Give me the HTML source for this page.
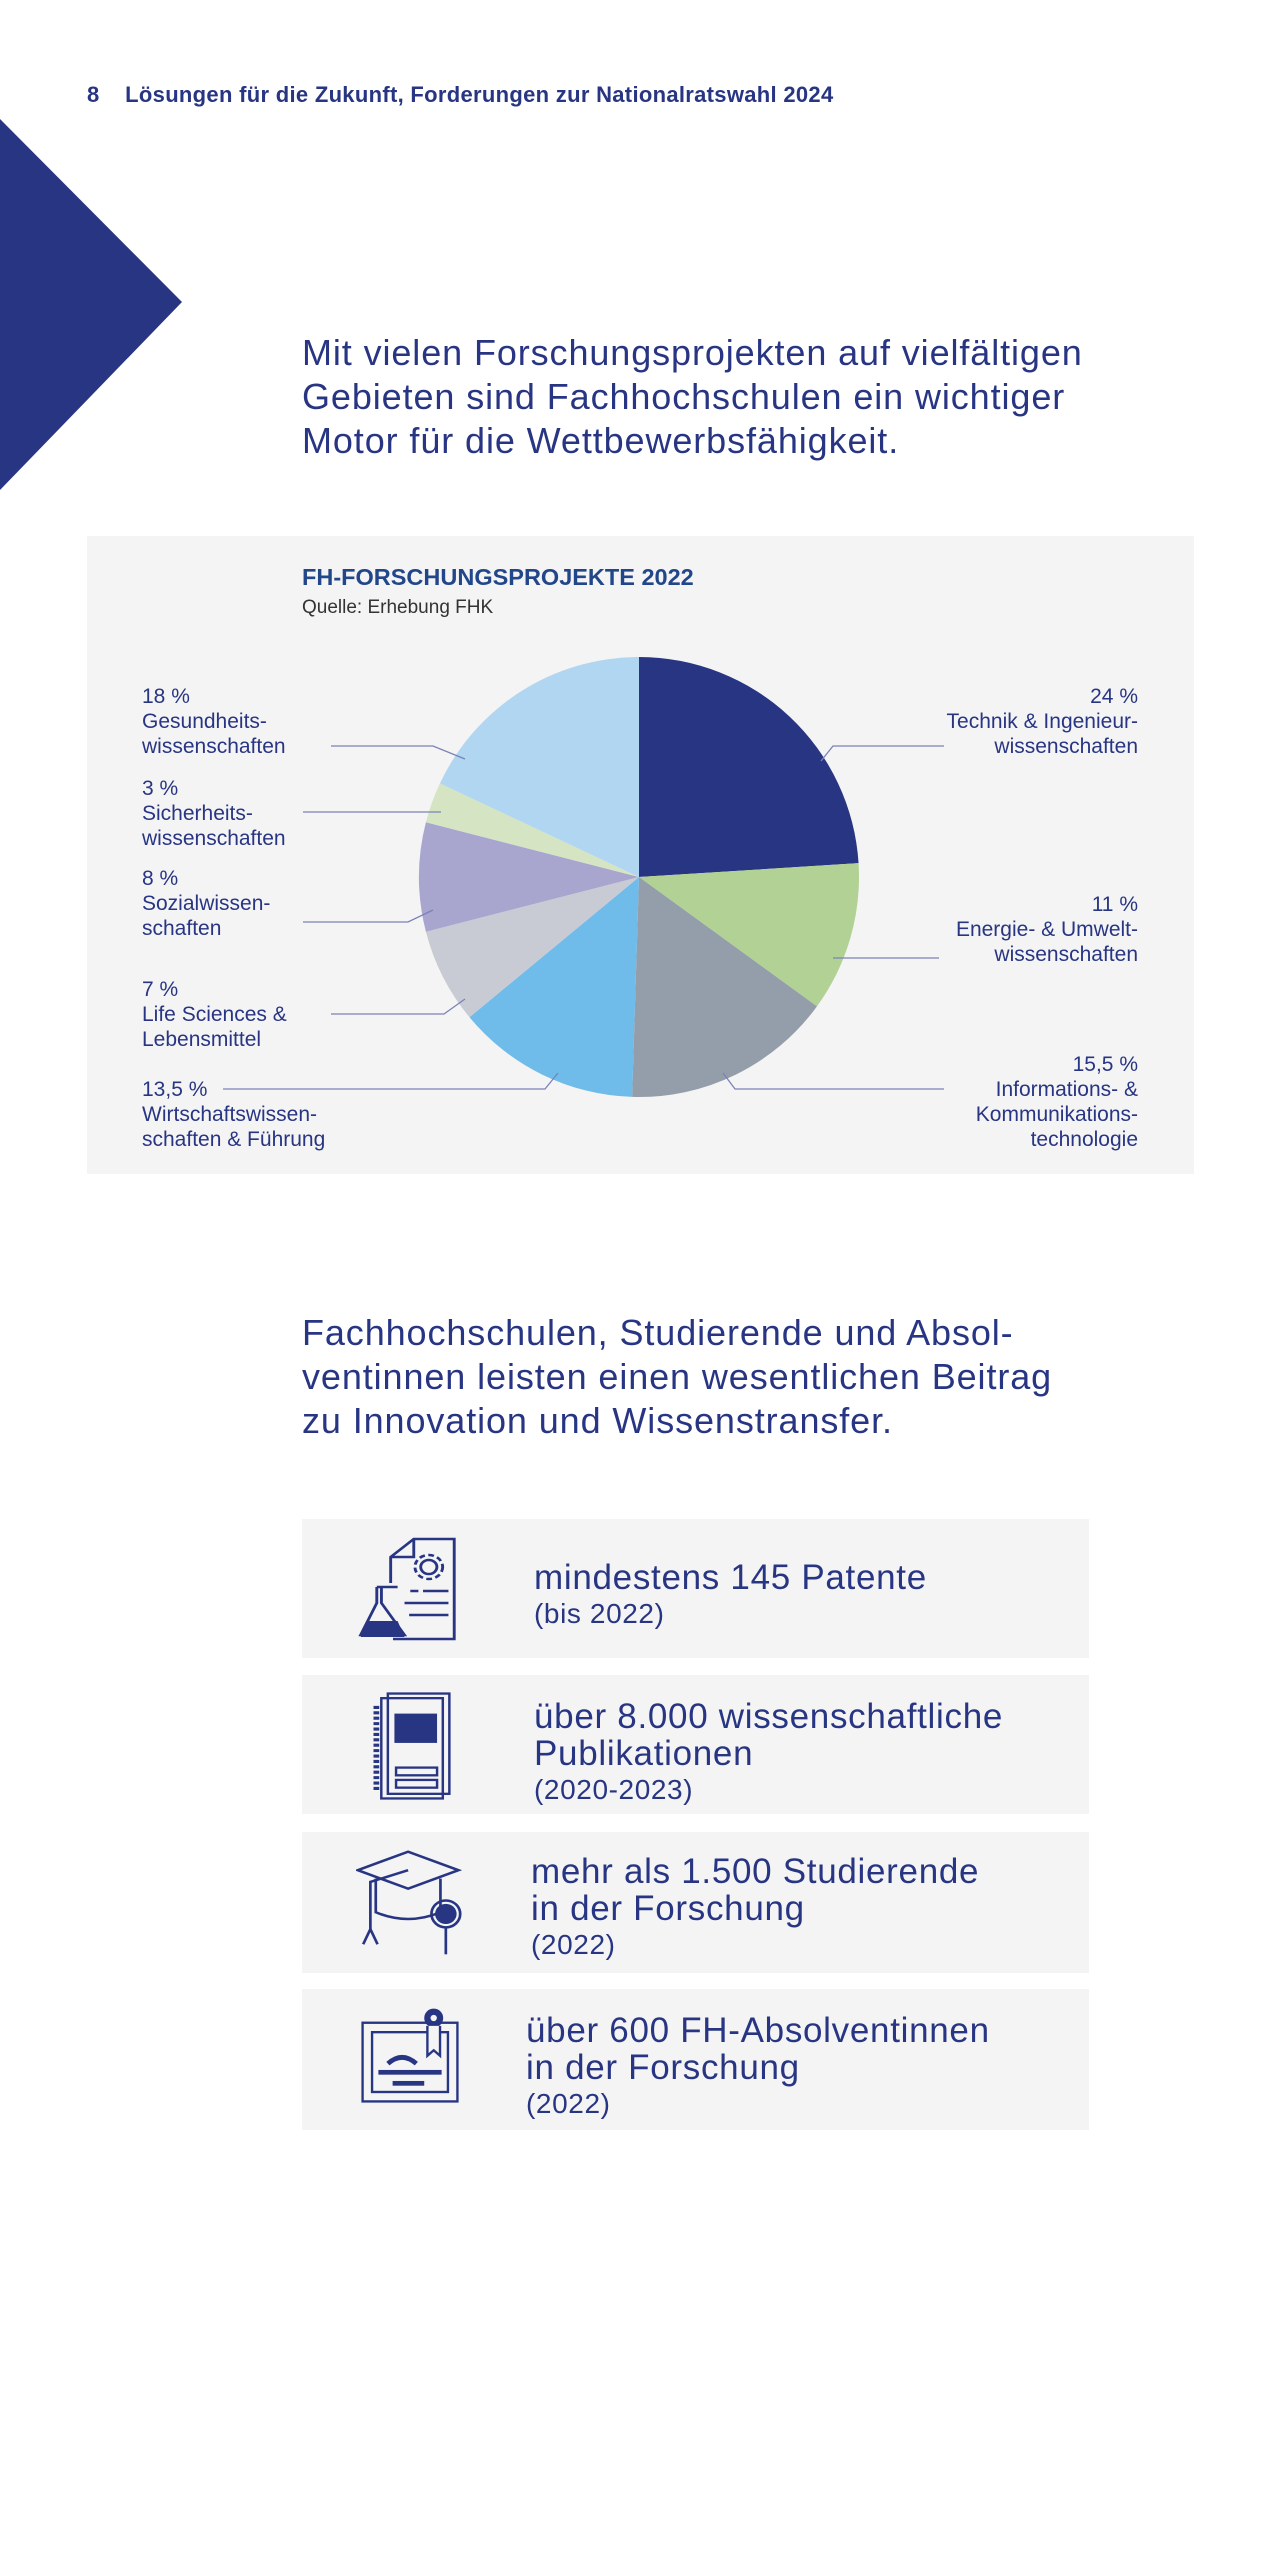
<!DOCTYPE html>
<html><head><meta charset="utf-8">
<style>
html,body{margin:0;padding:0;background:#fff;}
body{width:1280px;height:2560px;position:relative;overflow:hidden;font-family:"Liberation Sans",sans-serif;color:#283583;}
.abs{position:absolute;}
.hdr{left:87px;top:82px;font-size:22px;font-weight:bold;color:#283583;letter-spacing:0.3px;white-space:nowrap;}
.h2{left:302px;font-size:36px;line-height:44px;color:#283583;white-space:nowrap;letter-spacing:0.9px;}
.box{left:87px;top:536px;width:1107px;height:638px;background:#f4f4f4;}
.lbl{font-size:21px;line-height:25px;color:#283583;white-space:nowrap;}
.card{left:302px;width:787px;background:#f4f4f4;}
.ct{position:absolute;font-size:35px;line-height:37px;white-space:nowrap;color:#283583;letter-spacing:0.7px;}
.cs{font-size:28px;line-height:36px;display:block;letter-spacing:0.6px;}
.ic{position:absolute;}
</style></head><body>
<div class="abs hdr">8&nbsp;&nbsp;&nbsp;&nbsp;Lösungen für die Zukunft, Forderungen zur Nationalratswahl 2024</div>
<svg class="abs" style="left:0;top:0" width="200" height="500"><polygon points="0,119 182,302 0,490" fill="#283583"/></svg>
<div class="abs h2" style="top:331px">Mit vielen Forschungsprojekten auf vielfältigen<br>Gebieten sind Fachhochschulen ein wichtiger<br>Motor für die Wettbewerbsfähigkeit.</div>

<div class="abs box"></div>
<div class="abs" style="left:302px;top:564px;font-size:23.5px;font-weight:bold;color:#22468a;white-space:nowrap">FH-FORSCHUNGSPROJEKTE 2022</div>
<div class="abs" style="left:302px;top:597px;font-size:19px;color:#333;white-space:nowrap">Quelle: Erhebung FHK</div>
<svg id="pie" class="abs" style="left:0;top:0" width="1280" height="1200"></svg>

<div class="abs lbl" style="left:142px;top:684px">18 %<br>Gesundheits-<br>wissenschaften</div>
<div class="abs lbl" style="left:142px;top:776px">3 %<br>Sicherheits-<br>wissenschaften</div>
<div class="abs lbl" style="left:142px;top:866px">8 %<br>Sozialwissen-<br>schaften</div>
<div class="abs lbl" style="left:142px;top:977px">7 %<br>Life Sciences &amp;<br>Lebensmittel</div>
<div class="abs lbl" style="left:142px;top:1077px">13,5 %<br>Wirtschaftswissen-<br>schaften &amp; Führung</div>
<div class="abs lbl" style="right:142px;top:684px;text-align:right">24 %<br>Technik &amp; Ingenieur-<br>wissenschaften</div>
<div class="abs lbl" style="right:142px;top:892px;text-align:right">11 %<br>Energie- &amp; Umwelt-<br>wissenschaften</div>
<div class="abs lbl" style="right:142px;top:1052px;text-align:right">15,5 %<br>Informations- &amp;<br>Kommunikations-<br>technologie</div>

<div class="abs h2" style="top:1311px">Fachhochschulen, Studierende und Absol-<br>ventinnen leisten einen wesentlichen Beitrag<br>zu Innovation und Wissenstransfer.</div>

<div class="abs card" style="top:1519px;height:139px">
 <svg class="ic" style="left:54px;top:16px" width="104" height="106" viewBox="30 6 90 106" preserveAspectRatio="none">
  <g fill="none" stroke="#283583" stroke-width="2.5">
   <path d="M60,54 V28 L80,10 H115 V110 H62"/><path d="M60,28 H80 V10"/>
   <circle cx="93" cy="38" r="7"/><circle cx="93" cy="38" r="12" stroke-dasharray="5 3"/>
   <path d="M77,62 H84 M88,62 H110 M72,74 H110 M76,86 H110"/>
   <path d="M48,58 H66 M52,58 V74 L72,106 H34 L48,74 V58"/>
  </g>
  <path d="M40,92 H66 L72,108 H34 Z" fill="#283583"/>
 </svg>
 <div class="ct" style="left:232px;top:40px">mindestens 145 Patente<span class="cs">(bis 2022)</span></div>
</div>
<div class="abs card" style="top:1675px;height:139px">
 <svg class="ic" style="left:67px;top:17px" width="82" height="108" viewBox="15 2 100 140" preserveAspectRatio="none">
  <g fill="none" stroke="#283583" stroke-width="3">
   <rect x="30" y="10" width="75" height="130"/><rect x="38" y="4" width="75" height="130"/>
   <path d="M24,20 V132" stroke-dasharray="4 3" stroke-width="7"/>
   <rect x="48" y="100" width="50" height="10"/><rect x="48" y="116" width="50" height="10"/>
  </g>
  <rect x="46" y="30" width="52" height="38" fill="#283583"/>
 </svg>
 <div class="ct" style="left:232px;top:23px">über 8.000 wissenschaftliche<br>Publikationen<span class="cs">(2020-2023)</span></div>
</div>
<div class="abs card" style="top:1832px;height:141px">
 <svg class="ic" style="left:54px;top:18px" width="106" height="106" viewBox="4 6 118 126" preserveAspectRatio="none">
  <g fill="none" stroke="#283583" stroke-width="3">
   <path d="M6,30 L62,8 L118,30 L62,52 Z"/><path d="M26,40 V80 Q62,96 98,80 V40"/>
   <path d="M62,30 L20,44 V100"/><path d="M20,100 L12,118 M20,100 L28,118"/>
   <circle cx="104" cy="82" r="16"/><path d="M104,98 V130"/>
  </g>
  <circle cx="104" cy="82" r="12" fill="#283583"/>
 </svg>
 <div class="ct" style="left:229px;top:21px">mehr als 1.500 Studierende<br>in der Forschung<span class="cs">(2022)</span></div>
</div>
<div class="abs card" style="top:1989px;height:141px">
 <svg class="ic" style="left:59px;top:18px" width="98" height="96" viewBox="8 0 124 122" preserveAspectRatio="none">
  <g fill="none" stroke="#283583" stroke-width="3">
   <rect x="10" y="20" width="120" height="100"/><rect x="22" y="32" width="96" height="76"/>
   <path d="M42,72 Q60,56 78,72" stroke-width="6"/>
  </g>
  <rect x="30" y="80" width="80" height="6" fill="#283583"/><rect x="48" y="94" width="40" height="6" fill="#283583"/>
  <circle cx="100" cy="14" r="12" fill="#283583"/><circle cx="100" cy="14" r="4" fill="#f4f4f4"/>
  <path d="M92,24 V62 L100,55 L108,62 V24" fill="#f4f4f4" stroke="#283583" stroke-width="3"/>
 </svg>
 <div class="ct" style="left:224px;top:23px">über 600 FH-Absolventinnen<br>in der Forschung<span class="cs">(2022)</span></div>
</div>

<script>
const categories = ["Technik & Ingenieurwissenschaften","Energie- & Umweltwissenschaften","Informations- & Kommunikationstechnologie","Wirtschaftswissenschaften & Führung","Life Sciences & Lebensmittel","Sozialwissenschaften","Sicherheitswissenschaften","Gesundheitswissenschaften"];
const values = [24, 11, 15.5, 13.5, 7, 8, 3, 18];
const colors = ["#283583","#b2d295","#939eaa","#6fbbe9","#c8cbd3","#a8a6cf","#d5e4c3","#b0d6f1"];
const svg = document.getElementById('pie');
const NS = 'http://www.w3.org/2000/svg';
const cx = 639, cy = 877, r = 220;
const total = values.reduce((a,b)=>a+b,0);
function angleOf(v){ return v/total*2*Math.PI - Math.PI/2; }
function pt(a, rr){ return [cx + rr*Math.cos(a), cy + rr*Math.sin(a)]; }
let acc = 0;
values.forEach((v,i)=>{
  const a0 = angleOf(acc), a1 = angleOf(acc+v);
  acc += v;
  const p0 = pt(a0,r), p1 = pt(a1,r);
  const large = (a1-a0) > Math.PI ? 1 : 0;
  const path = document.createElementNS(NS,'path');
  path.setAttribute('d', `M${cx},${cy} L${p0[0]},${p0[1]} A${r},${r} 0 ${large} 1 ${p1[0]},${p1[1]} Z`);
  path.setAttribute('fill', colors[i]);
  
  
  svg.appendChild(path);
});
// leader-line annotation geometry: [tipX, tipY, kneeX, lineY, endX]
const leaders = [
  [821,761,833,746,944],
  [833,958,833,958,939],
  [723,1073,735,1089,944],
  [558,1073,545,1089,223],
  [465,999,444,1014,331],
  [433,910,408,922,303],
  [441,812,441,812,303],
  [465,759,433,746,331]
];
leaders.forEach(l=>{
  const pl = document.createElementNS(NS,'polyline');
  pl.setAttribute('points', `${l[0]},${l[1]} ${l[2]},${l[3]} ${l[4]},${l[3]}`);
  pl.setAttribute('fill','none');
  pl.setAttribute('stroke','#7b82b8');
  pl.setAttribute('stroke-width','1.3');
  
  
  svg.appendChild(pl);
});
</script>
</body></html>
